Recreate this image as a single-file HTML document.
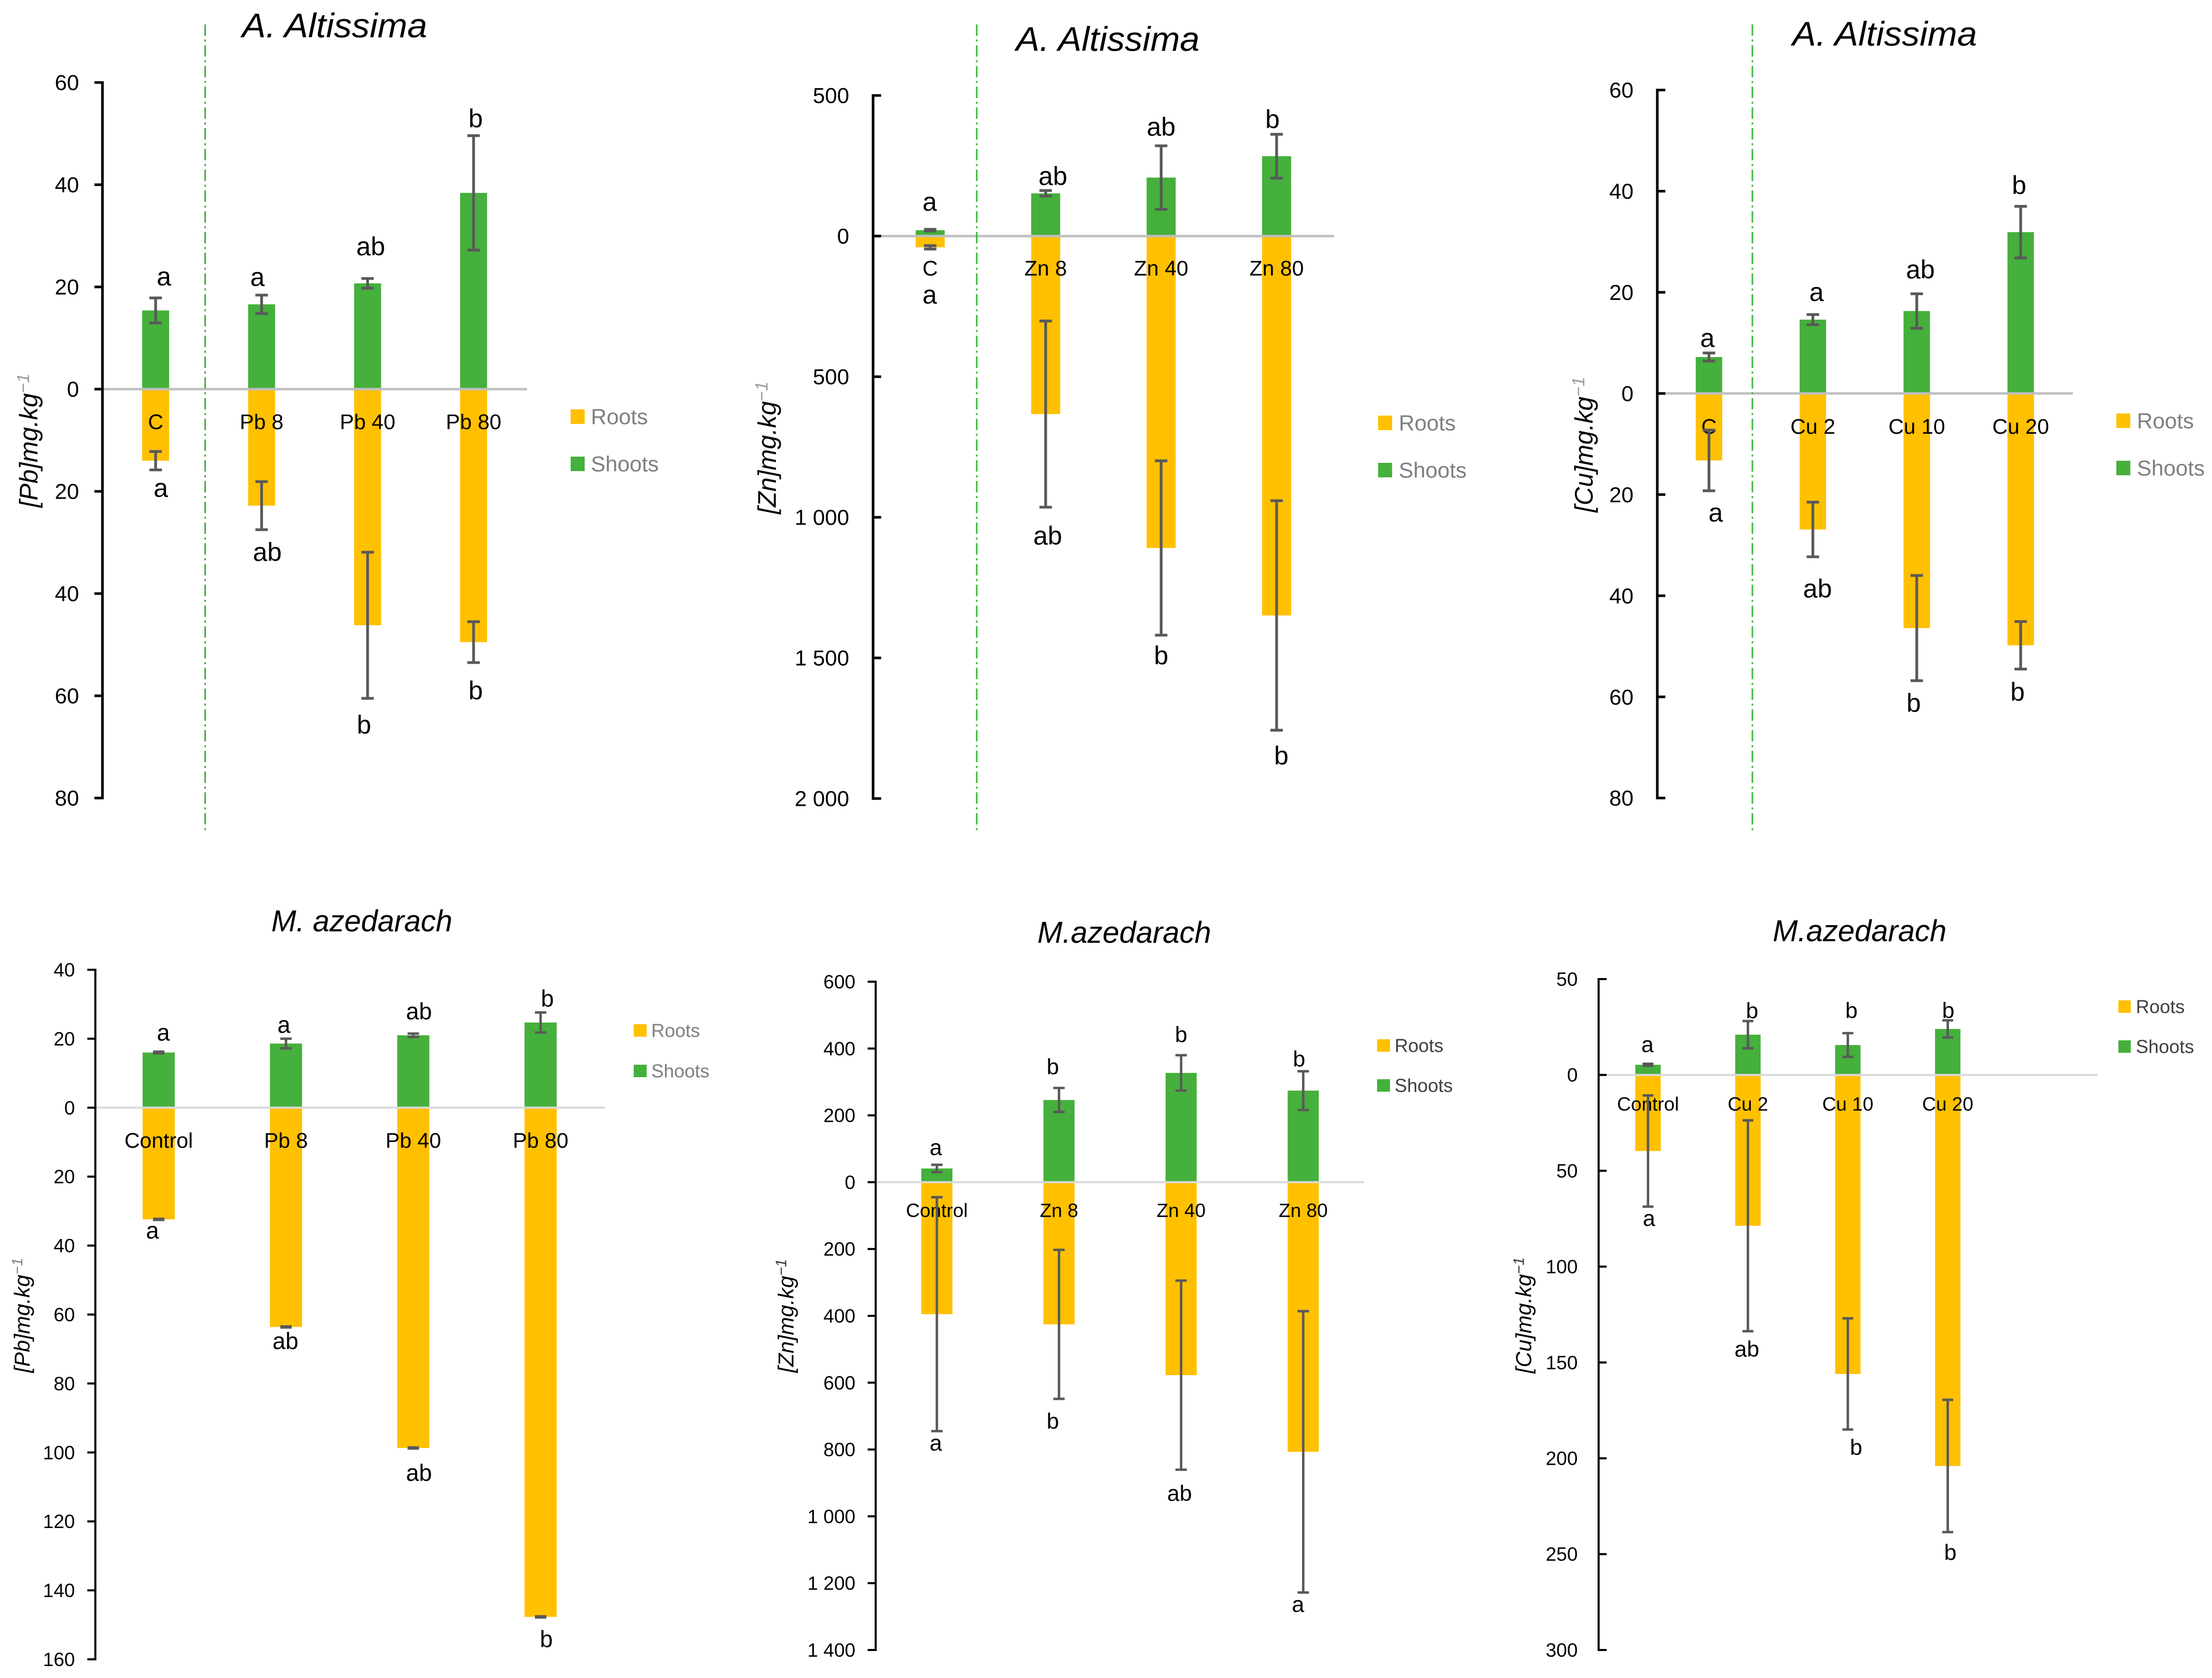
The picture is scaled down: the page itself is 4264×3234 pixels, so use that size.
<!DOCTYPE html>
<html lang="en">
<head>
<meta charset="utf-8">
<title>Metal concentration in roots and shoots</title>
<style>
html,body{margin:0;padding:0;background:#fff;width:4264px;height:3234px;overflow:hidden}
svg{display:block;font-family:"Liberation Sans",Arial,sans-serif}
</style>
</head>
<body>
<svg id="chart" xmlns="http://www.w3.org/2000/svg" width="4264" height="3234" viewBox="0 0 4264 3234"></svg>
<script>
// ---------- DATA (in axis units) ----------
const pbAltCategories = ['C', 'Pb 8', 'Pb 40', 'Pb 80'];
const pbAltTicks = [60, 40, 20, 0, -20, -40, -60, -80];
const pbAltShoots = [15.4, 16.6, 20.7, 38.4];
const pbAltShootErr = [2.45, 1.8, 0.95, 11.2];
const pbAltRoots = [14, 22.8, 46.2, 49.5];
const pbAltRootErr = [1.8, 4.7, 14.3, 4];
const pbAltShootLetters = ['a', 'a', 'ab', 'b'];
const pbAltRootLetters = ['a', 'ab', 'b', 'b'];

const znAltCategories = ['C', 'Zn 8', 'Zn 40', 'Zn 80'];
const znAltTicks = [500, 0, -500, -1000, -1500, -2000];
const znAltShoots = [21, 152, 208, 284];
const znAltShootErr = [3, 10, 113, 78];
const znAltRoots = [40, 633, 1109, 1349];
const znAltRootErr = [6, 331, 310, 408];
const znAltShootLetters = ['a', 'ab', 'ab', 'b'];
const znAltRootLetters = ['a', 'ab', 'b', 'b'];

const cuAltCategories = ['C', 'Cu 2', 'Cu 10', 'Cu 20'];
const cuAltTicks = [60, 40, 20, 0, -20, -40, -60, -80];
const cuAltShoots = [7.2, 14.6, 16.3, 31.9];
const cuAltShootErr = [0.8, 1, 3.4, 5.1];
const cuAltRoots = [13.25, 26.9, 46.4, 49.8];
const cuAltRootErr = [6, 5.4, 10.4, 4.7];
const cuAltShootLetters = ['a', 'a', 'ab', 'b'];
const cuAltRootLetters = ['a', 'ab', 'b', 'b'];

const pbMelCategories = ['Control', 'Pb 8', 'Pb 40', 'Pb 80'];
const pbMelTicks = [40, 20, 0, -20, -40, -60, -80, -100, -120, -140, -160];
const pbMelShoots = [16, 18.6, 21, 24.7];
const pbMelShootErr = [0.25, 1.4, 0.5, 2.9];
const pbMelRoots = [32.4, 63.6, 98.7, 147.7];
const pbMelRootErr = [0.15, 0.15, 0.15, 0.15];
const pbMelShootLetters = ['a', 'a', 'ab', 'b'];
const pbMelRootLetters = ['a', 'ab', 'ab', 'b'];

const znMelCategories = ['Control', 'Zn 8', 'Zn 40', 'Zn 80'];
const znMelTicks = [600, 400, 200, 0, -200, -400, -600, -800, -1000, -1200, -1400];
const znMelShoots = [41, 246, 327, 274];
const znMelShootErr = [11, 36, 53, 58];
const znMelRoots = [395, 425.5, 577.5, 807];
const znMelRootErr = [350, 223, 283, 421];
const znMelShootLetters = ['a', 'b', 'b', 'b'];
const znMelRootLetters = ['a', 'b', 'ab', 'a'];

const cuMelCategories = ['Control', 'Cu 2', 'Cu 10', 'Cu 20'];
const cuMelTicks = [50, 0, -50, -100, -150, -200, -250, -300];
const cuMelShoots = [5.3, 21, 15.6, 24];
const cuMelShootErr = [0.5, 7.1, 6.2, 4.5];
const cuMelRoots = [39.7, 78.7, 156, 204];
const cuMelRootErr = [29, 55, 29, 34.5];
const cuMelShootLetters = ['a', 'b', 'b', 'b'];
const cuMelRootLetters = ['a', 'ab', 'b', 'b'];

// ---------- LAYOUT ----------
const GREEN = '#45b03b', YELLOW = '#ffc000', ERR = '#595959';

const panels = [
  { id:'pb-altissima', title:'A. Altissima', titleX:645, titleY:72, titleW:357, titleFs:66,
    metal:'[Pb]', yLabelX:72, yLabelY:849, yLabelFs:49, supColor:'#999999',
    axisX:197.5, tickDir:-1, yTop:159, yBottom:1538, tickRight:152.4, tickFs:42,
    x0:300, step:204.3, barW:52, capW:12, errW:5.3, axisW:5, catY:812, catFs:41, letterFs:50,
    cats:pbAltCategories, ticks:pbAltTicks, shoots:pbAltShoots, shootErr:pbAltShootErr, roots:pbAltRoots, rootErr:pbAltRootErr,
    shootLetters:pbAltShootLetters, rootLetters:pbAltRootLetters,
    topNudge:[[16,-37],[-8,-31],[6,-63],[4,-34]], botNudge:[[10,39],[11,42],[-7,50],[4,53]],
    zeroEnd:1016, zeroColor:'#bfbfbf', zeroW:4.7,
    divider:{x:395.5, y1:47, y2:1600, w:3, color:'#45b03b'},
    legX:1100, legW:27, legH:28, legY1:803, legY2:894, legTextX:1139, legFs:42, legColor:'#7f7f7f' },
  { id:'zn-altissima', title:'A. Altissima', titleX:2135.4, titleY:98, titleW:354, titleFs:66,
    metal:'[Zn]', yLabelX:1495.7, yLabelY:863, yLabelFs:49, supColor:'#999999',
    axisX:1683, tickDir:1, yTop:184, yBottom:1539, tickRight:1637, tickFs:42,
    x0:1793.1, step:222.6, barW:56, capW:12, errW:5.3, axisW:5, catY:516, catFs:41, letterFs:50,
    cats:znAltCategories, ticks:znAltTicks, shoots:znAltShoots, shootErr:znAltShootErr, roots:znAltRoots, rootErr:znAltRootErr,
    shootLetters:znAltShootLetters, rootLetters:znAltRootLetters,
    topNudge:[[-1,-49],[14,-29],[0,-38],[-8,-30]], botNudge:[[-1,92],[4,54],[0,38],[9,48]],
    zeroEnd:2571.8, zeroColor:'#bfbfbf', zeroW:4.7,
    divider:{x:1882.8, y1:47, y2:1600, w:3, color:'#3cb93c'},
    legX:2656.5, legW:27, legH:28, legY1:815, legY2:906, legTextX:2696.4, legFs:42, legColor:'#7f7f7f' },
  { id:'cu-altissima', title:'A. Altissima', titleX:3633, titleY:88, titleW:356, titleFs:66,
    metal:'[Cu]', yLabelX:3070, yLabelY:857, yLabelFs:49, supColor:'#999999',
    axisX:3194.7, tickDir:1, yTop:173.5, yBottom:1538, tickRight:3148.9, tickFs:42,
    x0:3294.3, step:200.3, barW:51, capW:12, errW:5.3, axisW:5, catY:821, catFs:41, letterFs:50,
    cats:cuAltCategories, ticks:cuAltTicks, shoots:cuAltShoots, shootErr:cuAltShootErr, roots:cuAltRoots, rootErr:cuAltRootErr,
    shootLetters:cuAltShootLetters, rootLetters:cuAltRootLetters,
    topNudge:[[-3,-25],[7,-39],[7,-48],[-3,-42]], botNudge:[[13,46],[9,60],[-6,42],[-6,43]],
    zeroEnd:3995.8, zeroColor:'#bfbfbf', zeroW:4.7,
    divider:{x:3378, y1:47, y2:1600, w:3, color:'#3cb93c'},
    legX:4079.5, legW:27, legH:28, legY1:811, legY2:902, legTextX:4119.3, legFs:42, legColor:'#7f7f7f' },
  { id:'pb-azedarach', title:'M. azedarach', titleX:697.5, titleY:1795, titleW:349, titleFs:58,
    metal:'[Pb]', yLabelX:56.8, yLabelY:2535, yLabelFs:42, supColor:'#808080',
    axisX:183.8, tickDir:-1, yTop:1869, yBottom:3198, tickRight:144.5, tickFs:37,
    x0:305.9, step:245.4, barW:62, capW:11, errW:4.7, axisW:4, catY:2197, catFs:41, letterFs:45,
    cats:pbMelCategories, ticks:pbMelTicks, shoots:pbMelShoots, shootErr:pbMelShootErr, roots:pbMelRoots, rootErr:pbMelRootErr,
    shootLetters:pbMelShootLetters, rootLetters:pbMelRootLetters,
    topNudge:[[9,-33],[-4,-23],[11,-44],[13,-28]], botNudge:[[-12,24],[-1,25],[11,46],[11,41]],
    zeroEnd:1166, zeroColor:'#d9d9d9', zeroW:4, divider:null,
    legX:1221.6, legW:25, legH:24, legY1:1986, legY2:2064, legTextX:1255.4, legFs:36, legColor:'#7f7f7f' },
  { id:'zn-azedarach', title:'M.azedarach', titleX:2167.3, titleY:1817, titleW:335, titleFs:58,
    metal:'[Zn]', yLabelX:1529.6, yLabelY:2536, yLabelFs:42, supColor:'#333333',
    axisX:1688, tickDir:-1, yTop:1892, yBottom:3180, tickRight:1649, tickFs:37,
    x0:1806, step:235.4, barW:60, capW:11, errW:4.7, axisW:4, catY:2332, catFs:37, letterFs:43,
    cats:znMelCategories, ticks:znMelTicks, shoots:znMelShoots, shootErr:znMelShootErr, roots:znMelRoots, rootErr:znMelRootErr,
    shootLetters:znMelShootLetters, rootLetters:znMelRootLetters,
    topNudge:[[-2,-30],[-12,-42],[0,-41],[-8,-25]], botNudge:[[-2,26],[-12,42],[-3,44],[-10,26]],
    zeroEnd:2629.6, zeroColor:'#d9d9d9', zeroW:4, divider:null,
    legX:2654.5, legW:25, legH:24, legY1:2015, legY2:2092, legTextX:2688.4, legFs:36, legColor:'#404040' },
  { id:'cu-azedarach', title:'M.azedarach', titleX:3584.8, titleY:1814, titleW:335, titleFs:58,
    metal:'[Cu]', yLabelX:2951.6, yLabelY:2535, yLabelFs:42, supColor:'#333333',
    axisX:3081.6, tickDir:1, yTop:1887, yBottom:3180, tickRight:3041.3, tickFs:37,
    x0:3176.8, step:192.6, barW:49, capW:10.5, errW:4.7, axisW:4, catY:2127, catFs:37, letterFs:43,
    cats:cuMelCategories, ticks:cuMelTicks, shoots:cuMelShoots, shootErr:cuMelShootErr, roots:cuMelRoots, rootErr:cuMelRootErr,
    shootLetters:cuMelShootLetters, rootLetters:cuMelRootLetters,
    topNudge:[[-1,-34],[8,-21],[7,-45],[1,-20]], botNudge:[[2,26],[-2,33],[16,33],[5,38]],
    zeroEnd:4043.6, zeroColor:'#d9d9d9', zeroW:4, divider:null,
    legX:4083.5, legW:24, legH:24, legY1:1940, legY2:2017, legTextX:4117.3, legFs:36, legColor:'#404040' }
];

// ---------- DRAWING ----------
const NS = 'http://www.w3.org/2000/svg';
const root = document.getElementById('chart');

function mk(parent, tag, attrs, text) {
  const el = document.createElementNS(NS, tag);
  for (const k in attrs) el.setAttribute(k, attrs[k]);
  if (text !== undefined) el.textContent = text;
  parent.appendChild(el);
  return el;
}
function fmt(v) {
  return String(Math.abs(v)).replace(/\B(?=(\d{3})+$)/g, ' ');
}

panels.forEach(function (p) {
  const g = mk(root, 'g', {});
  
  

  const maxV = Math.max.apply(null, p.ticks);
  const minV = Math.min.apply(null, p.ticks);
  const yScale = function (v) { return p.yTop + (maxV - v) * (p.yBottom - p.yTop) / (maxV - minV); };
  const xScale = function (i) { return p.x0 + i * p.step; };
  const y0 = yScale(0);

  // title
  const title = mk(g, 'text', { x:p.titleX, y:p.titleY, 'text-anchor':'middle', 'font-style':'italic', 'font-size':p.titleFs, fill:'#000', textLength:p.titleW, lengthAdjust:'spacingAndGlyphs' }, p.title);
  
  

  // bars
  p.cats.forEach(function (c, i) {
    const cx = xScale(i);
    const sy = yScale(p.shoots[i]);
    const ry = yScale(-p.roots[i]);
    const sb = mk(g, 'rect', { x:cx - p.barW / 2, y:sy, width:p.barW, height:y0 - sy, fill:GREEN });
    
    
    const rb = mk(g, 'rect', { x:cx - p.barW / 2, y:y0, width:p.barW, height:ry - y0, fill:YELLOW });
    
    
  });

  // zero line
  const zl = mk(g, 'line', { x1:p.axisX, x2:p.zeroEnd, y1:y0, y2:y0, stroke:p.zeroColor, 'stroke-width':p.zeroW });
  
  

  // divider
  if (p.divider) {
    const dv = mk(g, 'line', { x1:p.divider.x, x2:p.divider.x, y1:p.divider.y1, y2:p.divider.y2, stroke:p.divider.color, 'stroke-width':p.divider.w, 'stroke-dasharray':'22 7 4 7' });
    
    
  }

  // y axis
  const ax = mk(g, 'line', { x1:p.axisX, x2:p.axisX, y1:p.yTop - p.axisW / 2, y2:p.yBottom + p.axisW / 2, stroke:'#000', 'stroke-width':p.axisW });
  
  
  p.ticks.forEach(function (t) {
    const ty = yScale(t);
    const tk = mk(g, 'line', { x1:p.axisX, x2:p.axisX + p.tickDir * 15.5, y1:ty, y2:ty, stroke:'#000', 'stroke-width':p.axisW });
    
    
    const tl = mk(g, 'text', { x:p.tickRight, y:ty + p.tickFs * 0.35, 'text-anchor':'end', 'font-size':p.tickFs, fill:'#000' }, fmt(t));
    
    
  });

  // y axis title
  const yt = mk(g, 'text', { x:p.yLabelX, y:p.yLabelY, 'text-anchor':'middle', 'font-size':p.yLabelFs, 'font-style':'italic', fill:'#000', transform:'rotate(-90 ' + p.yLabelX + ' ' + p.yLabelY + ')' });
  
  
  const yt1 = mk(yt, 'tspan', {}, p.metal + 'mg.kg');
  
  
  const yt2 = mk(yt, 'tspan', { dy:-p.yLabelFs * 0.33, 'font-size':p.yLabelFs * 0.68, fill:p.supColor }, '\u22121');
  
  

  // category labels
  p.cats.forEach(function (c, i) {
    const cl = mk(g, 'text', { x:xScale(i), y:p.catY + p.catFs * 0.36, 'text-anchor':'middle', 'font-size':p.catFs, fill:'#000' }, c);
    
    
  });

  // error bars and significance letters
  function errorBar(cx, center, err, name) {
    const top = yScale(center + err);
    const bot = yScale(center - err);
    const e = mk(g, 'path', { d:'M' + (cx - p.capW) + ' ' + top + 'H' + (cx + p.capW) + 'M' + cx + ' ' + top + 'V' + bot + 'M' + (cx - p.capW) + ' ' + bot + 'H' + (cx + p.capW), fill:'none', stroke:ERR, 'stroke-width':p.errW });
    
    
  }
  function letter(cx, yc, t) {
    const by = yc + (t === 'a' ? 0.26 : 0.365) * p.letterFs;
    const lt = mk(g, 'text', { x:cx, y:by, 'text-anchor':'middle', 'font-size':p.letterFs, fill:'#000' }, t);
    
    
  }
  p.cats.forEach(function (c, i) {
    const cx = xScale(i);
    errorBar(cx, p.shoots[i], p.shootErr[i], 'shoots-error-bar');
    errorBar(cx, -p.roots[i], p.rootErr[i], 'roots-error-bar');
    letter(cx + p.topNudge[i][0], yScale(p.shoots[i] + p.shootErr[i]) + p.topNudge[i][1], p.shootLetters[i]);
    letter(cx + p.botNudge[i][0], yScale(-p.roots[i] - p.rootErr[i]) + p.botNudge[i][1], p.rootLetters[i]);
  });

  // legend
  const rm = mk(g, 'rect', { x:p.legX, y:p.legY1 - p.legH / 2, width:p.legW, height:p.legH, fill:YELLOW });
  
  
  const rt = mk(g, 'text', { x:p.legTextX, y:p.legY1 + p.legFs * 0.35, 'font-size':p.legFs, fill:p.legColor }, 'Roots');
  
  
  const sm = mk(g, 'rect', { x:p.legX, y:p.legY2 - p.legH / 2, width:p.legW, height:p.legH, fill:GREEN });
  
  
  const st = mk(g, 'text', { x:p.legTextX, y:p.legY2 + p.legFs * 0.35, 'font-size':p.legFs, fill:p.legColor }, 'Shoots');
  
  
});
</script>
</body>
</html>
